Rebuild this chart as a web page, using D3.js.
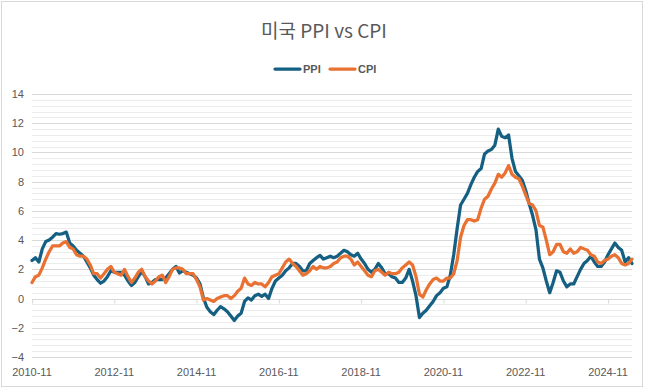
<!DOCTYPE html>
<html>
<head>
<meta charset="utf-8">
<script src="https://cdn.jsdelivr.net/npm/d3@7"></script>
<style>
  html, body { margin: 0; padding: 0; background: #fff; }
  svg { display: block; }
</style>
</head>
<body>
<div id="chart"></div>
<script>
(function () {
  'use strict';

  /* data: monthly YoY %, 2010-11 .. 2025-06 */
  var TITLE = '미국 PPI vs CPI';
  var SERIES_NAMES = ['PPI', 'CPI'];
  var FIRST_MONTH = new Date(2010, 10, 1);
  var END_MONTH = new Date(2025, 6, 1);
  var TICK_LABELS = ['2010-11', '2012-11', '2014-11', '2016-11', '2018-11', '2020-11', '2022-11', '2024-11'];
  var Y_TICKS = [-4, -2, 0, 2, 4, 6, 8, 10, 12, 14];

  var ppi = [
    2.6, 2.8,
    2.5, 3.4, 3.9, 4.0, 4.2, 4.45, 4.4, 4.45, 4.55, 3.8, 3.6, 3.3,
    3.1, 2.9, 2.5, 2.1, 1.6, 1.3, 1.05, 1.2, 1.5, 1.9, 1.8, 1.8,
    1.8, 1.6, 1.2, 0.9, 1.1, 1.5, 1.85, 1.5, 1.0, 1.1, 1.3, 1.3,
    1.3, 1.4, 1.7, 2.0, 2.2, 1.75, 1.9, 1.8, 1.7, 1.6, 1.4, 1.0,
    0.05, -0.6, -0.9, -1.1, -0.8, -0.55, -0.7, -0.9, -1.2, -1.5, -1.2, -1.0,
    -0.2, 0.05, -0.1, 0.2, 0.3, 0.15, 0.3, 0.0, 0.7, 1.2, 1.4, 1.6,
    1.9, 2.1, 2.4, 2.4, 2.2, 1.9, 1.9, 2.4, 2.6, 2.8, 2.95, 2.7,
    2.8, 2.9, 2.8, 2.9, 3.1, 3.3, 3.2, 3.0, 2.9, 3.1, 2.7, 2.4,
    2.0, 1.8, 2.0, 2.4, 2.1, 1.7, 1.7, 1.5, 1.4, 1.1, 1.1, 1.4,
    2.0, 1.2, 0.2, -1.3, -1.0, -0.8, -0.5, -0.2, 0.2, 0.4, 0.7, 0.8,
    1.6, 3.0, 4.8, 6.4, 6.8, 7.2, 7.8, 8.3, 8.7, 8.9, 9.9, 10.1,
    10.2, 10.5, 11.6, 11.1, 11.0, 11.2, 9.6, 8.7, 8.4, 8.1, 7.4, 6.5,
    5.7, 4.7, 2.7, 2.1, 1.2, 0.4, 1.1, 1.9, 1.8, 1.2, 0.8, 1.0,
    1.0, 1.5, 2.0, 2.4, 2.6, 2.9, 2.5, 2.2, 2.2, 2.5, 3.0, 3.4,
    3.8, 3.5, 3.3, 2.5, 2.8, 2.4
  ];

  var cpi = [
    1.1, 1.5,
    1.6, 2.1, 2.7, 3.2, 3.6, 3.6, 3.6, 3.8, 3.9, 3.5, 3.4, 3.0,
    2.9, 2.9, 2.7, 2.3, 1.7, 1.7, 1.4, 1.7, 2.0, 2.2, 1.8, 1.7,
    1.6, 2.0, 1.5, 1.1, 1.4, 1.8, 2.0, 1.5, 1.2, 1.0, 1.2, 1.5,
    1.6, 1.1, 1.5, 2.0, 2.1, 2.1, 2.0, 1.7, 1.7, 1.7, 1.3, 0.8,
    -0.1, 0.0, -0.1, -0.2, 0.0, 0.1, 0.2, 0.2, 0.0, 0.2, 0.5, 0.7,
    1.4, 1.0, 0.9, 1.1, 1.0, 1.0, 0.8, 1.1, 1.5, 1.6, 1.7, 2.1,
    2.5, 2.7, 2.4, 2.2, 1.9, 1.6, 1.7, 1.9, 2.2, 2.0, 2.2, 2.1,
    2.1, 2.2, 2.4, 2.5, 2.8, 2.9, 2.9, 2.7, 2.3, 2.5, 2.2, 1.9,
    1.6, 1.5, 1.9, 2.0, 1.8, 1.6, 1.8, 1.7, 1.7, 1.8, 2.1, 2.3,
    2.5, 2.3, 1.5, 0.3, 0.1, 0.6, 1.0, 1.3, 1.4, 1.2, 1.2, 1.4,
    1.4, 1.7, 2.6, 4.2, 5.0, 5.4, 5.4, 5.3, 5.4, 6.2, 6.8, 7.0,
    7.5, 7.9, 8.5, 8.3, 8.6, 9.1, 8.5, 8.3, 8.2, 7.7, 7.1, 6.5,
    6.4, 6.0, 5.0, 4.9, 4.0, 3.0, 3.2, 3.7, 3.7, 3.2, 3.1, 3.4,
    3.1, 3.2, 3.5, 3.4, 3.3, 3.0, 2.9, 2.5, 2.4, 2.6, 2.7, 2.9,
    3.0, 2.8, 2.4, 2.3, 2.4, 2.7
  ];

  const COLORS = {
    PPI: '#156082',
    CPI: '#E97132',
    TEXT: '#595959',
    GRID: '#d9d9d9',
    MINOR: '#ececec'
  };

  var width = 647;
  var height = 389;
  var plot = { left: 32, right: 632, top: 94, bottom: 357 };

  var fmt = d3.timeFormat('%Y-%m');
  var months = d3.timeMonth.range(FIRST_MONTH, END_MONTH).map(fmt);

  var svg = d3.select('#chart').append('svg')
    .attr('width', width)
    .attr('height', height);

  /* chart frame */
  svg.append('rect')
    .attr('x', 1.5).attr('y', 1.5)
    .attr('width', 641).attr('height', 385)
    .attr('fill', '#fff')
    .attr('stroke', '#d9d9d9');

  var x = d3.scalePoint()
    .domain(months)
    .range([plot.left, plot.right]);

  var y = d3.scaleLinear()
    .domain([-4, 14])
    .range([plot.bottom, plot.top]);

  // minor grid every 0.4
  var minor = d3.range(0, 46).map(function (k) { return -4 + k * 0.4; })
    .filter(function (v) { return Math.abs(v / 2 - Math.round(v / 2)) > 1e-6; });

  svg.append('g')
    .selectAll('line')
    .data(minor)
    .enter()
    .append('line')
    .attr('x1', plot.left).attr('x2', plot.right)
    .attr('y1', function (d) { return Math.round(y(d)) + 0.5; })
    .attr('y2', function (d) { return Math.round(y(d)) + 0.5; })
    .attr('stroke', COLORS.MINOR);

  svg.append('g')
    .selectAll('line')
    .data(Y_TICKS)
    .enter()
    .append('line')
    .attr('x1', plot.left).attr('x2', plot.right)
    .attr('y1', function (d) { return Math.round(y(d)) + 0.5; })
    .attr('y2', function (d) { return Math.round(y(d)) + 0.5; })
    .attr('stroke', COLORS.GRID);

  // Y labels
  var yAxis = svg.append('g')
    .attr('transform', 'translate(' + (plot.left - 8) + ',0)')
    .call(d3.axisLeft(y).tickValues(Y_TICKS).tickSize(0).tickPadding(0));
  yAxis.select('.domain').remove();
  yAxis.selectAll('text')
    .attr('fill', COLORS.TEXT)
    .style('font', '11px "Liberation Sans", Arial, sans-serif');

  // X axis: ticks on the zero line, labels at the bottom
  var xTicks = svg.append('g')
    .attr('transform', 'translate(0,' + (Math.round(y(0)) + 0.5) + ')')
    .call(d3.axisBottom(x).tickValues(TICK_LABELS).tickSize(4).tickFormat(''));
  xTicks.select('.domain').remove();
  xTicks.selectAll('line').attr('stroke', COLORS.GRID);

  svg.append('g')
    .selectAll('text')
    .data(TICK_LABELS)
    .enter()
    .append('text')
    .attr('x', function (d) { return x(d); })
    .attr('y', 376)
    .attr('text-anchor', 'middle')
    .attr('fill', COLORS.TEXT)
    .style('font', '11px "Liberation Sans", Arial, sans-serif')
    .text(function (d) { return d; });

  // lines
  var series = [
    { name: SERIES_NAMES[0], values: ppi, color: COLORS.PPI },
    { name: SERIES_NAMES[1], values: cpi, color: COLORS.CPI }
  ];

  var line = d3.line()
    .x(function (d, i) { return x(months[i]); })
    .y(function (d) { return y(d); });

  svg.append('g')
    .selectAll('path')
    .data(series)
    .enter()
    .append('path')
    .attr('d', function (s) { return line(s.values); })
    .attr('fill', 'none')
    .attr('stroke', function (s) { return s.color; })
    .attr('stroke-width', 3.25)
    .attr('stroke-linejoin', 'round')
    .attr('stroke-linecap', 'round');

  // title
  svg.append('text')
    .attr('x', 324)
    .attr('y', 38)
    .attr('text-anchor', 'middle')
    .attr('fill', COLORS.TEXT)
    .style('font', '19px "Noto Sans CJK KR", "Noto Sans", sans-serif')
    .text(TITLE);

  // legend
  var legend = svg.append('g')
    .attr('transform', 'translate(275,69)');
  var items = legend.selectAll('g')
    .data(series)
    .enter()
    .append('g')
    .attr('transform', function (d, i) { return 'translate(' + (i * 55) + ',0)'; });
  items.append('line')
    .attr('x1', 0).attr('x2', 25)
    .attr('stroke', function (d) { return d.color; })
    .attr('stroke-width', 3.25)
    .attr('stroke-linecap', 'round');
  items.append('text')
    .attr('x', 28)
    .attr('y', 4)
    .attr('fill', COLORS.TEXT)
    .style('font', 'bold 11px "Liberation Sans", Arial, sans-serif')
    .text(function (d) { return d.name; });
}());
</script>
</body>
</html>
